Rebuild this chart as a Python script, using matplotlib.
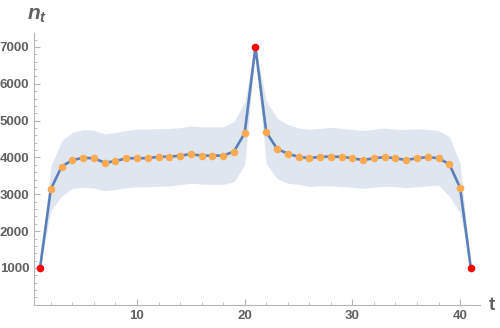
import numpy as np
import matplotlib
matplotlib.use('Agg')
import matplotlib.pyplot as plt
from matplotlib.ticker import MultipleLocator, FixedLocator

plt.rcParams['font.family'] = ['Liberation Sans', 'DejaVu Sans']
plt.rcParams['mathtext.fontset'] = 'custom'
plt.rcParams['mathtext.it'] = 'Liberation Sans:bold:italic'
plt.rcParams['mathtext.rm'] = 'Liberation Sans:bold'

# values
t = np.arange(1, 42)
mean_n = [1000, 3140, 3750, 3930, 3990, 3980, 3860, 3900, 3980, 3980,
          3980, 4020, 4020, 4050, 4090, 4050, 4050, 4050, 4160, 4660,
          7000, 4690, 4240, 4100, 4020, 3980, 4020, 4020, 4020, 3980,
          3930, 3980, 4010, 3980, 3930, 3980, 4010, 3980, 3820, 3180,
          1000]
upper_n = [1000, 3750, 4450, 4680, 4760, 4740, 4640, 4680, 4730, 4770,
           4770, 4780, 4790, 4810, 4860, 4830, 4830, 4830, 4970, 5500,
           7000, 5540, 5070, 4890, 4800, 4765, 4790, 4820, 4790, 4765,
           4730, 4765, 4800, 4765, 4765, 4780, 4765, 4730, 4565, 3850,
           1000]
lower_n = [1000, 2550, 2950, 3160, 3190, 3170, 3100, 3130, 3180, 3200,
           3210, 3220, 3230, 3260, 3300, 3280, 3270, 3270, 3340, 3800,
           7000, 3840, 3430, 3300, 3270, 3210, 3230, 3230, 3210, 3190,
           3160, 3190, 3220, 3210, 3180, 3210, 3230, 3250, 2950, 2500,
           1000]
fixed_t = [1, 21, 41]
fixed_n = [1000, 7000, 1000]

line_col = '#5B7FB8'
band_col = '#DFE6F0'
dot_col = '#FCAA52'
axis_col = '#B5B5B5'
text_col = '#606060'

fig = plt.figure(figsize=(5, 3.28), dpi=100)
ax = fig.add_axes([0.068, 0.0707, 0.892, 0.8287])

ax.fill_between(t, lower_n, upper_n, color=band_col, lw=0)
ax.plot(t, mean_n, color=line_col, lw=1.9, zorder=2)
free = [i for i in range(len(t)) if t[i] not in fixed_t]
ax.plot(t[free], np.array(mean_n)[free], 'o', color=dot_col, ms=5.5, mec='none', zorder=3)
ax.plot(fixed_t, fixed_n, 'o', color='#FF0000', ms=5.5, mec='none', zorder=4)

ax.set_xlim(0.44, 41.85)
ax.set_ylim(0, 7380)

for s in ['top', 'right']:
    ax.spines[s].set_visible(False)
for s in ['left', 'bottom']:
    ax.spines[s].set_color(axis_col)
    ax.spines[s].set_linewidth(0.8)

ax.xaxis.set_major_locator(FixedLocator([10, 20, 30, 40]))
ax.xaxis.set_minor_locator(MultipleLocator(2))
ax.yaxis.set_major_locator(FixedLocator([1000, 2000, 3000, 4000, 5000, 6000, 7000]))
ax.yaxis.set_minor_locator(MultipleLocator(200))
ax.tick_params(which='major', direction='in', length=4, width=0.8, color=axis_col,
               labelsize=9.5, labelcolor=text_col, pad=3.5)
ax.tick_params(which='minor', direction='in', length=2.5, width=0.6, color=axis_col)
for lab in ax.get_xticklabels() + ax.get_yticklabels():
    lab.set_fontweight('bold')

fig.text(0.054, 0.925, r'$n_t$', fontsize=15, color=text_col, ha='left', va='bottom')
fig.text(0.978, 0.07, 't', fontsize=13.5, color=text_col, fontweight='bold',
         ha='left', va='center')

fig.savefig('out.png', dpi=100)
